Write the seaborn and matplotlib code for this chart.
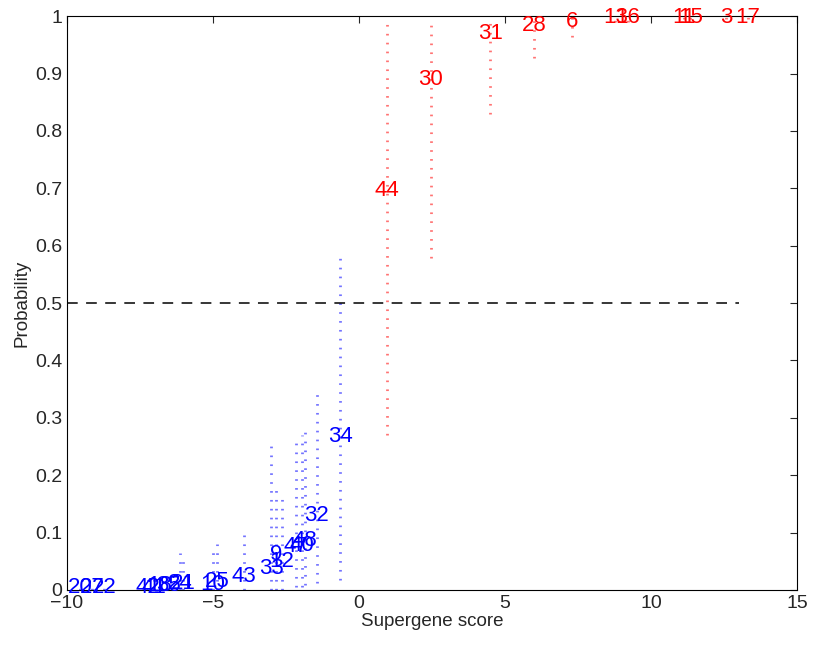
import numpy as np
import pandas as pd
import matplotlib
matplotlib.use('Agg')
import matplotlib.pyplot as plt
import seaborn as sns

# sample labels, supergene score, probability and interval (low / high)
blue_ids = ['20', '27', '22', '42', '41', '18', '35', '24', '21', '10',
            '25', '43', '33', '9', '12', '47', '40', '48', '32', '34']
blue_score = [-9.55, -9.14, -8.73, -7.23, -7.02, -6.82, -6.54, -6.13, -6.03, -5.0,
              -4.86, -3.94, -3.01, -2.84, -2.64, -2.16, -1.95, -1.85, -1.44, -0.65]
blue_prob = [0.004, 0.004, 0.004, 0.005, 0.005, 0.007, 0.007, 0.012, 0.012, 0.010,
             0.014, 0.023, 0.038, 0.061, 0.050, 0.075, 0.078, 0.087, 0.129, 0.267]
blue_lo = [0.0, 0.0, 0.0, 0.0, 0.0, 0.0, 0.0, 0.0, 0.0, 0.0,
           0.0, 0.0, 0.0, 0.0, 0.0, 0.005, 0.005, 0.008, 0.012, 0.017]
blue_hi = [0.01, 0.01, 0.012, 0.02, 0.03, 0.03, 0.03, 0.065, 0.05, 0.07,
           0.08, 0.105, 0.26, 0.18, 0.16, 0.26, 0.27, 0.275, 0.35, 0.58]

red_ids = ['44', '30', '31', '28', '6', '13', '16', '11', '15', '3', '17']
red_score = [0.95, 2.46, 4.49, 6.0, 7.29, 8.77, 9.21, 11.13, 11.34, 12.57, 13.32]
red_prob = [0.697, 0.889, 0.970, 0.984, 0.991, 0.997, 0.997, 0.998, 0.998, 0.998, 0.998]
red_lo = [0.27, 0.578, 0.83, 0.928, 0.963, 0.99, 0.99, 0.995, 0.995, 0.996, 0.996]
red_hi = [0.99, 0.99, 0.995, 0.998, 0.999, 1.0, 1.0, 1.0, 1.0, 1.0, 1.0]

cut_x = [-10, 13]
cut_y = [0.5, 0.5]

sns.set_style('white')
plt.rcParams['font.family'] = ['Liberation Sans', 'DejaVu Sans']

fig = plt.figure(figsize=(8.16, 6.49), dpi=100)
ax = fig.add_axes([0.082, 0.091, 0.895, 0.884])

dots = (0, (0.6, 2.6))
ax.vlines(blue_score, blue_lo, blue_hi, colors='blue', linestyles=dots, linewidth=2, alpha=0.55)
ax.vlines(red_score, red_lo, red_hi, colors='red', linestyles=dots, linewidth=2, alpha=0.55)

cut = pd.DataFrame({'x': cut_x, 'y': cut_y})
sns.lineplot(data=cut, x='x', y='y', ax=ax, color='black', linewidth=1.1, dashes=False)
ax.lines[-1].set_dashes((7, 5.5))

for s, p, t in zip(blue_score, blue_prob, blue_ids):
    ax.text(s, p, t, color='blue', fontsize=16, ha='center', va='center')
for s, p, t in zip(red_score, red_prob, red_ids):
    ax.text(s, p, t, color='red', fontsize=16, ha='center', va='center')

ax.set_xlim(-10, 15)
ax.set_ylim(0, 1)
ax.set_xticks(np.arange(-10, 16, 5))
ax.set_yticks(np.arange(0, 1.01, 0.1))
ax.set_yticklabels(['0', '0.1', '0.2', '0.3', '0.4', '0.5', '0.6', '0.7', '0.8', '0.9', '1'])
ax.tick_params(direction='in', top=True, right=True, labelsize=14, length=5, width=0.8)
for sp in ax.spines.values():
    sp.set_color('black')
    sp.set_linewidth(0.8)
ax.set_xlabel('Supergene score', fontsize=13.5, labelpad=1)
ax.set_ylabel('Probability', fontsize=13.5, labelpad=3)

fig.savefig('out.png', dpi=100)
